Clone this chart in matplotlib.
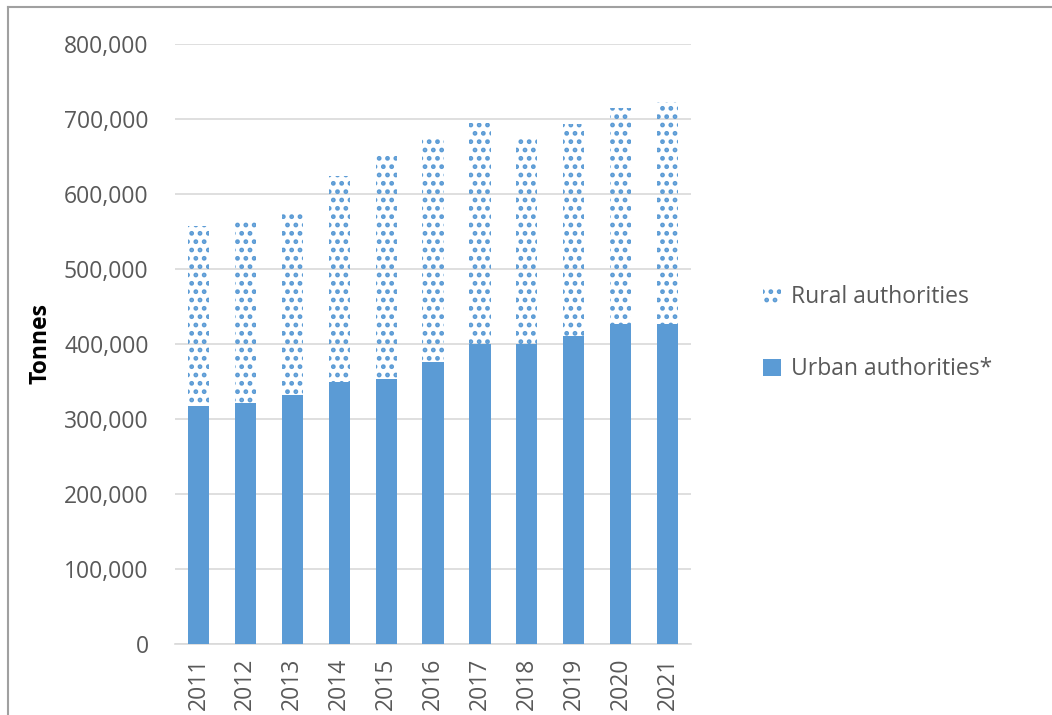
import matplotlib.pyplot as plt
from matplotlib.lines import Line2D
from matplotlib.ticker import FuncFormatter

# ===== DATA =====
years = ['2011', '2012', '2013', '2014', '2015', '2016', '2017', '2018', '2019', '2020', '2021']
urban = [317000, 321000, 332000, 349000, 353000, 376000, 400000, 400000, 411000, 427000, 427000]
total = [557000, 563000, 577000, 624000, 653000, 677000, 695000, 675000, 693000, 715000, 723000]
rural = [t - u for t, u in zip(total, urban)]

BLUE = '#5b9bd5'
GREY_TXT = '#595959'

plt.rcParams['font.family'] = ['Open Sans', 'DejaVu Sans']
plt.rcParams['hatch.linewidth'] = 2.2

fig = plt.figure(figsize=(10.52, 7.15), dpi=100)
ax = fig.add_axes([0.1663, 0.0993, 0.4907, 0.8392])

x = list(range(len(years)))
ax.bar(x, urban, width=0.45, color=BLUE, label='Urban authorities*', zorder=3)
ax.bar(x, rural, bottom=urban, width=0.45, facecolor='none', edgecolor=BLUE,
       linewidth=0, hatch='..', label='Rural authorities', zorder=3)

ax.set_xlim(-0.5, len(years) - 0.5)
ax.set_ylim(0, 800000)
ax.set_yticks(range(0, 800001, 100000))
ax.yaxis.set_major_formatter(FuncFormatter(lambda v, p: f'{int(v):,}'))
ax.set_xticks(x)
ax.set_xticklabels(years, rotation=90)
ax.grid(axis='y', color='#d9d9d9', linewidth=1.2, zorder=0)
for s in ['top', 'right', 'left']:
    ax.spines[s].set_visible(False)
ax.spines['bottom'].set_color('#d9d9d9')
ax.spines['bottom'].set_linewidth(1.2)
ax.tick_params(axis='both', length=0, labelsize=16.5, colors=GREY_TXT)
ax.tick_params(axis='y', pad=19)
ax.tick_params(axis='x', pad=10)
ax.set_ylabel('Tonnes', fontsize=16.5, fontweight='bold', color='black')
ax.yaxis.set_label_coords(-0.237, 0.5)

handles, labels = ax.get_legend_handles_labels()
leg = fig.legend(handles[::-1], labels[::-1], loc='center left', bbox_to_anchor=(0.706, 0.534),
                 frameon=False, fontsize=16.5, labelspacing=2.1, handlelength=0.75,
                 handleheight=0.75, handletextpad=0.45)
for t in leg.get_texts():
    t.set_color(GREY_TXT)

# frame lines of the original screenshot
fig.add_artist(Line2D([0.008, 1.0], [0.990, 0.990], color='#a0a0a0', linewidth=1.5))
fig.add_artist(Line2D([0.008, 0.008], [0.0, 0.990], color='#a0a0a0', linewidth=1.5))

fig.savefig('out.png', dpi=100)
